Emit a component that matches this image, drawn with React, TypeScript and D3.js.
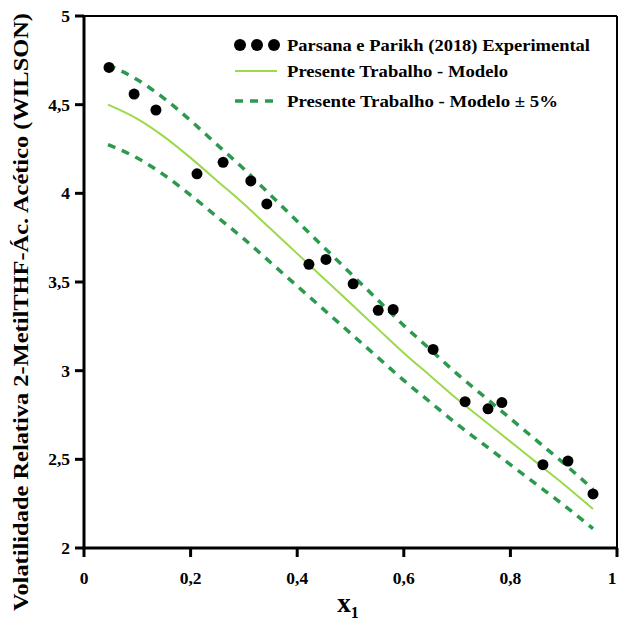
import React from "react";
import * as d3 from "d3";

const expX = [0.047, 0.094, 0.135, 0.212, 0.261, 0.313, 0.343, 0.422, 0.454, 0.505, 0.552, 0.58, 0.655, 0.715, 0.758, 0.784, 0.861, 0.908, 0.955];
const expY = [4.71, 4.56, 4.47, 4.11, 4.175, 4.07, 3.94, 3.60, 3.627, 3.49, 3.34, 3.345, 3.12, 2.825, 2.785, 2.82, 2.47, 2.49, 2.305];

const modelX = [0.045, 0.1, 0.15, 0.2, 0.25, 0.3, 0.35, 0.4, 0.45, 0.5, 0.55, 0.6, 0.65, 0.7, 0.75, 0.8, 0.85, 0.9, 0.955];
const modelY = [4.5, 4.42, 4.32, 4.2, 4.07, 3.94, 3.8, 3.66, 3.52, 3.38, 3.24, 3.1, 2.97, 2.84, 2.72, 2.6, 2.48, 2.36, 2.22];

const xTicks = [0, 0.2, 0.4, 0.6, 0.8, 1];
const yTicks = [2, 2.5, 3, 3.5, 4, 4.5, 5];

const legendLabels = [
  "Parsana e Parikh (2018) Experimental",
  "Presente Trabalho - Modelo",
  "Presente Trabalho - Modelo \u00b1 5%",
];

const W = 619, H = 626;
const L = 84, R = 617, T = 16, B = 548;
const solidColor = "#9bd94c";
const dashColor = "#2b9a4e";
const font = "'Liberation Serif', 'Times New Roman', serif";

export default function App() {
  const x = d3.scaleLinear().domain([0, 1]).range([L, R]);
  const y = d3.scaleLinear().domain([2, 5]).range([B, T]);
  const pts = modelX.map((v, i) => ({ x: v, y: modelY[i] }));
  const line = (f: number) =>
    d3.line<{ x: number; y: number }>().x(d => x(d.x)).y(d => y(d.y * f)).curve(d3.curveMonotoneX)(pts) || "";
  const fmt = (v: number) => String(v).replace(".", ",");
  const legendLen = [303, 221, 271];

  return (
    <svg width={W} height={H} style={{ position: "absolute", left: 0, top: 0, background: "#fff" }} fontFamily={font} fontWeight="bold">
      <rect width={W} height={H} fill="#fff" />
      {/* frame */}
      <line x1={L} x2={R} y1={T} y2={T} stroke="#000" strokeWidth={2} />
      <line x1={R} x2={R} y1={T} y2={B} stroke="#000" strokeWidth={2} />
      <line x1={L} x2={L} y1={T - 1} y2={B + 1.5} stroke="#000" strokeWidth={3} />
      <line x1={L - 1.5} x2={R + 1} y1={B} y2={B} stroke="#000" strokeWidth={3} />
      {yTicks.map(t => (
        <g key={"y" + t}>
          <line x1={L - 9} x2={L} y1={y(t)} y2={y(t)} stroke="#000" strokeWidth={3} />
          <text x={L - 14} y={y(t) + 6} textAnchor="end" fontSize={17.5}>{fmt(t)}</text>
        </g>
      ))}
      {xTicks.map(t => (
        <g key={"x" + t}>
          <line x1={x(t)} x2={x(t)} y1={B} y2={B + 9} stroke="#000" strokeWidth={3} />
          <text x={Math.min(x(t), 612)} y={B + 36} textAnchor="middle" fontSize={17.5}>{fmt(t)}</text>
        </g>
      ))}
      <text x={348} y={612} textAnchor="middle" fontSize={27}>
        x<tspan fontSize={16} dy={6}>1</tspan>
      </text>
      <text transform={`translate(28,312) rotate(-90)`} textAnchor="middle" fontSize={21} textLength={598} lengthAdjust="spacingAndGlyphs">
        Volatilidade Relativa 2-MetilTHF-Ác. Acético (WILSON)
      </text>
      {/* curves */}
      <path d={line(1)} fill="none" stroke={solidColor} strokeWidth={2} />
      <path d={line(1.05)} fill="none" stroke={dashColor} strokeWidth={3.5} strokeDasharray="8 7" />
      <path d={line(0.95)} fill="none" stroke={dashColor} strokeWidth={3.5} strokeDasharray="8 7" />
      {expX.map((v, i) => (
        <circle key={i} cx={x(v)} cy={y(expY[i])} r={5.5} fill="#000" />
      ))}
      {/* legend */}
      {[240, 257, 274].map(cx => (
        <circle key={cx} cx={cx} cy={45} r={6} fill="#000" />
      ))}
      <line x1={235} x2={277} y1={71} y2={71} stroke={solidColor} strokeWidth={2} />
      <line x1={235} x2={279} y1={101} y2={101} stroke={dashColor} strokeWidth={3.5} strokeDasharray="8 7" />
      {legendLabels.map((s, i) => (
        <text key={s} x={287} y={[51, 77, 107][i]} fontSize={17} textLength={legendLen[i]} lengthAdjust="spacingAndGlyphs">{s}</text>
      ))}
    </svg>
  );
}
